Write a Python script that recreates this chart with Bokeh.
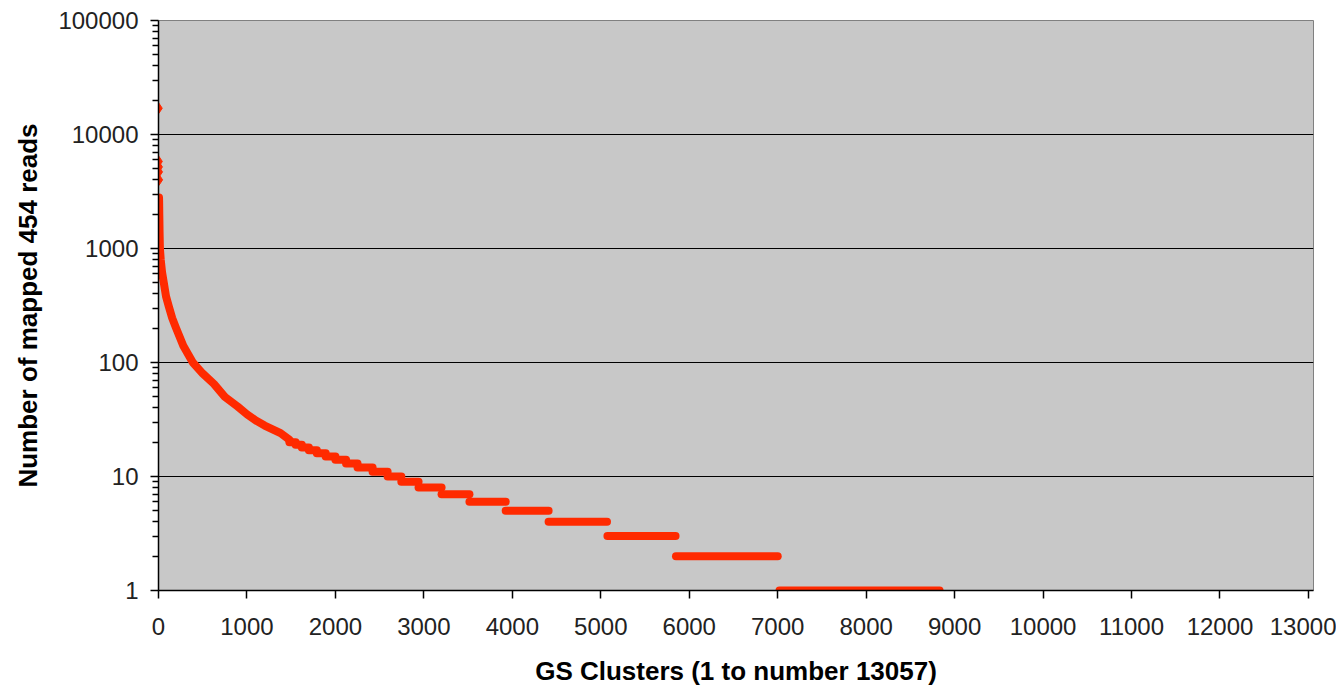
from bokeh.plotting import figure
from bokeh.models import Range1d, FixedTicker, NumeralTickFormatter
from bokeh.embed import file_html
from bokeh.resources import INLINE

# ---- data ----
top_ranks = [1, 2, 3, 4, 5]
top_reads = [17000, 5800, 5200, 4700, 4000]

curve_ranks = [6, 7, 8, 9, 10, 12, 16, 25, 40, 61, 85, 117, 155, 200, 280, 388, 500,
               626, 750, 896, 1003, 1100, 1200, 1380, 1480]
curve_reads = [2800, 2600, 2300, 2000, 1800, 1400, 1000, 800, 620, 495, 380, 309, 245,
               199, 140, 100, 80, 65, 50, 41, 35, 31, 28, 24, 21]

step_reads = [20, 19, 18, 17, 16, 15, 14, 13, 12, 11, 10, 9, 8, 7, 6, 5, 4, 3, 2, 1]
step_start = [1480, 1550, 1620, 1700, 1790, 1890, 2000, 2120, 2250, 2420, 2590, 2745,
              2940, 3200, 3515, 3925, 4410, 5075, 5850, 7020]
step_end = [1550, 1620, 1700, 1790, 1890, 2000, 2120, 2250, 2420, 2590, 2745, 2940,
            3200, 3515, 3925, 4410, 5070, 5845, 7000, 8830]

x_ticks = list(range(0, 13001, 1000))
y_ticks = [1, 10, 100, 1000, 10000, 100000]
y_minor = [m * d for d in [1, 10, 100, 1000, 10000] for m in range(2, 10)]

RED = "#FF2A00"

p = figure(width=1336, height=688, y_axis_type="log",
           x_range=Range1d(0, 13057), y_range=Range1d(1, 100000),
           output_backend="svg", toolbar_location=None,
           min_border_left=158, min_border_right=23, min_border_top=20, min_border_bottom=98)

p.background_fill_color = "#C8C8C8"
p.border_fill_color = "white"
p.outline_line_color = "#808080"
p.outline_line_width = 1

p.xgrid.visible = False
p.ygrid.grid_line_color = "black"
p.ygrid.grid_line_width = 1.2
p.ygrid.ticker = FixedTicker(ticks=y_ticks)

# data
p.line(curve_ranks, curve_reads, line_color=RED, line_width=8, line_cap="round", line_join="round")
p.segment(x0=step_start, y0=step_reads, x1=step_end, y1=step_reads,
          line_color=RED, line_width=8, line_cap="round")
p.scatter(top_ranks, top_reads, marker="diamond", size=11, fill_color=RED, line_color=RED)

# axes
xa = p.xaxis[0]
xa.ticker = FixedTicker(ticks=x_ticks)
xa.formatter = NumeralTickFormatter(format="0")
ya = p.yaxis[0]
ya.ticker = FixedTicker(ticks=y_ticks, minor_ticks=y_minor)
ya.formatter = NumeralTickFormatter(format="0")

for ax in (xa, ya):
    ax.axis_line_color = "black"
    ax.axis_line_width = 1.5
    ax.major_tick_line_color = "black"
    ax.major_tick_line_width = 1.5
    ax.minor_tick_line_color = "black"
    ax.minor_tick_line_width = 1.5
    ax.major_tick_in = 0
    ax.minor_tick_in = 0
    ax.major_label_text_font = "Liberation Sans"
    ax.major_label_text_font_size = "24px"
    ax.major_label_text_color = "#222222"
    ax.axis_label_text_font = "Liberation Sans"
    ax.axis_label_text_font_style = "bold"
    ax.axis_label_text_font_size = "26px"
    ax.axis_label_text_color = "black"

xa.major_tick_out = 8
xa.minor_tick_out = 0
xa.major_label_standoff = 19
xa.axis_label = "GS Clusters (1 to number 13057)"
xa.axis_label_standoff = 18

ya.major_tick_out = 8
ya.minor_tick_out = 6
ya.major_label_standoff = 12
ya.axis_label = "Number of mapped 454 reads"
ya.axis_label_standoff = 12

open("out.html", "w").write(file_html(p, INLINE))
